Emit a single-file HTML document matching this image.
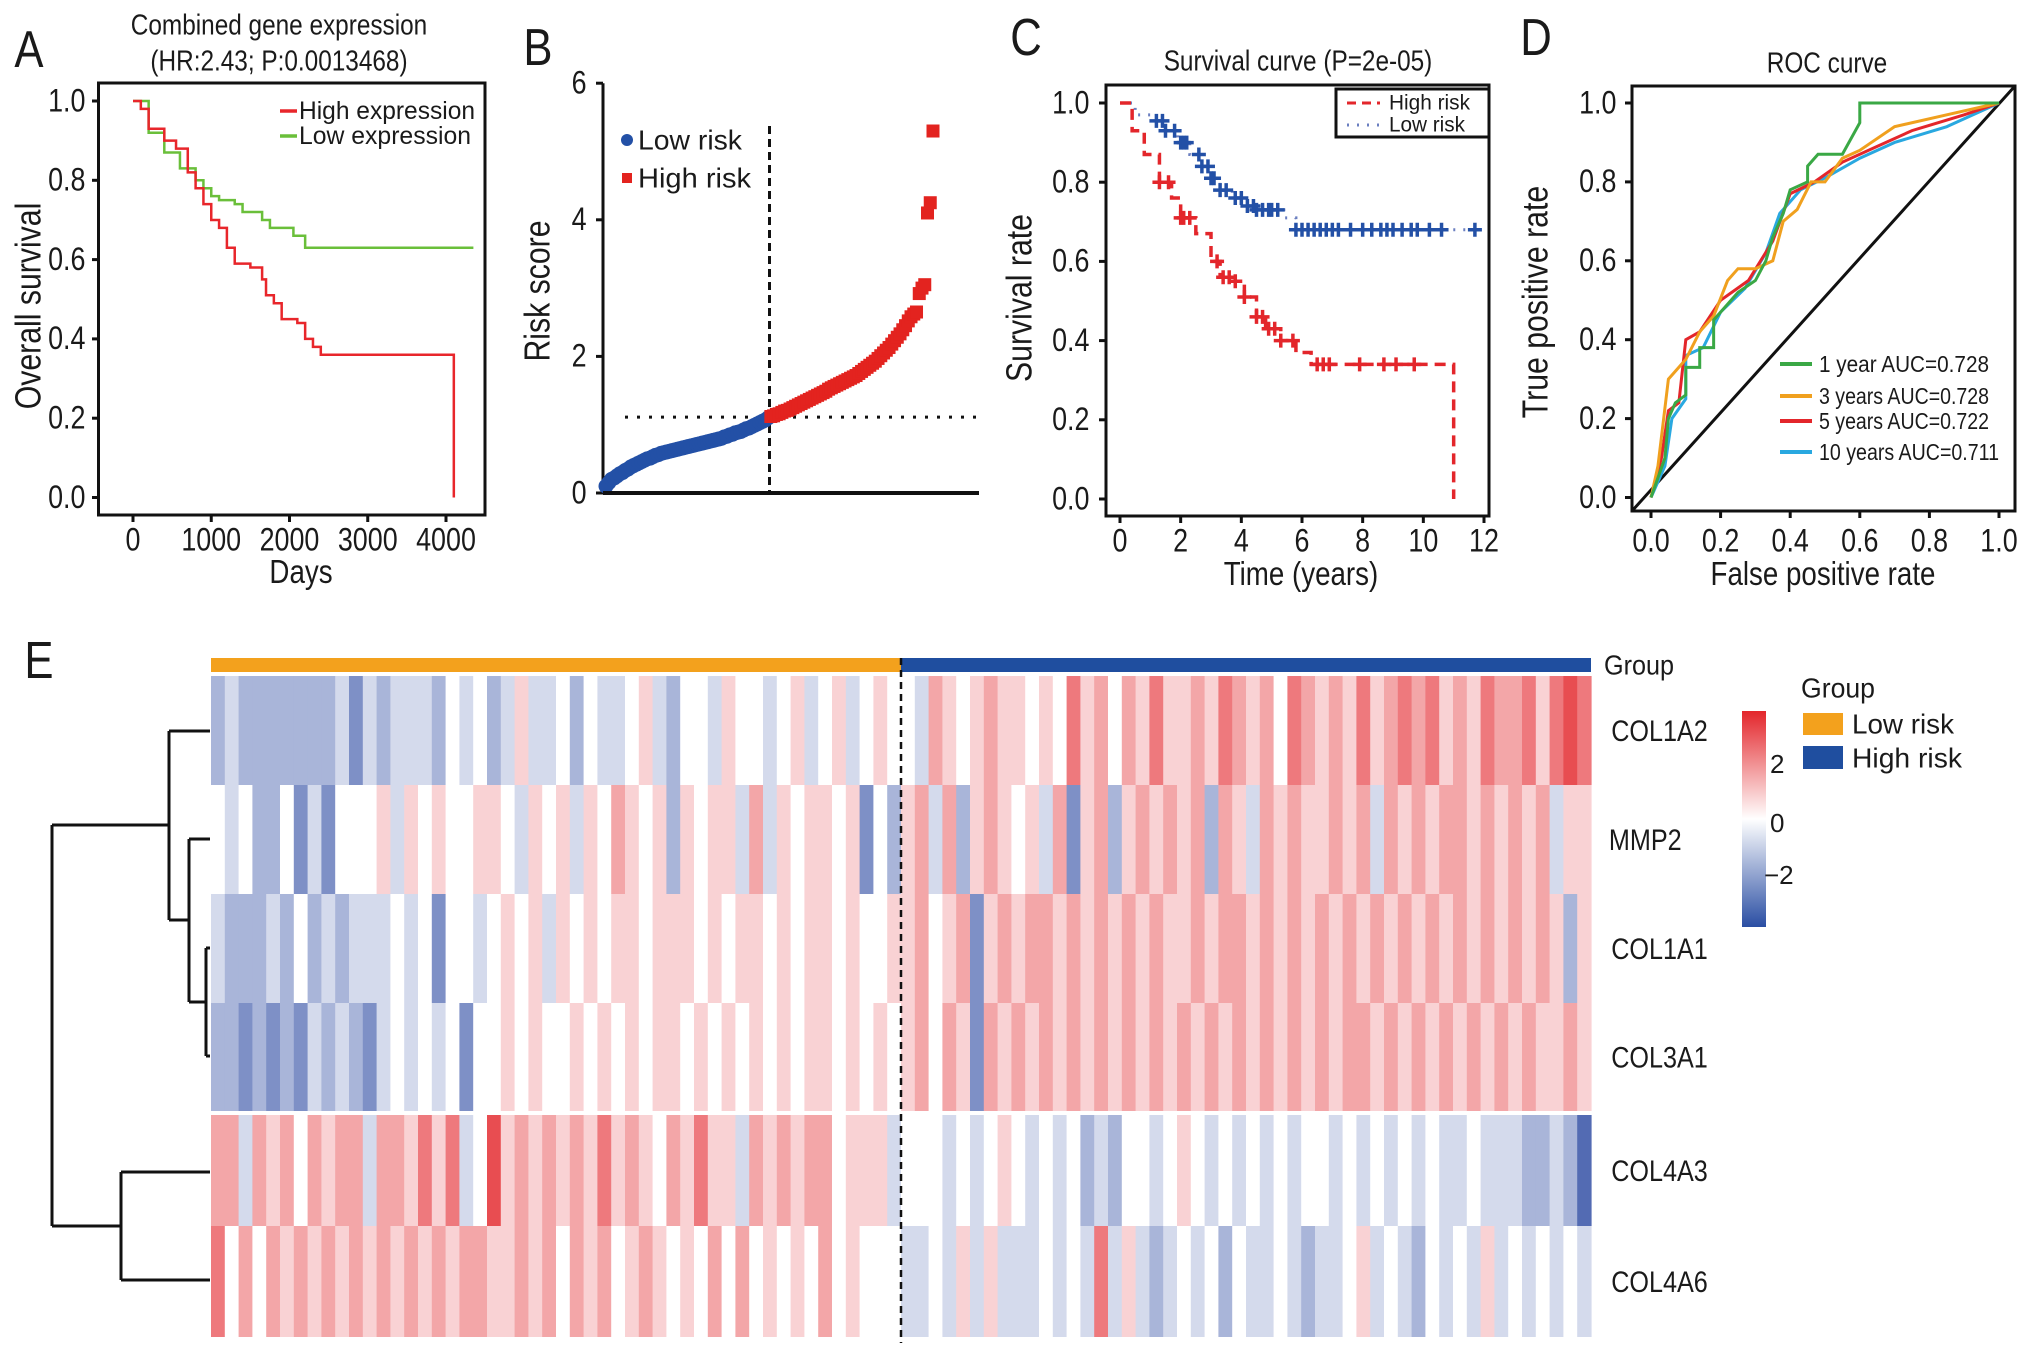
<!DOCTYPE html>
<html><head><meta charset="utf-8"><title>Risk model figure</title>
<style>
html,body{margin:0;padding:0;background:#fff;}
svg{display:block;}
text{font-family:"Liberation Sans",sans-serif;fill:#1a1a1a;}
.c{transform-box:fill-box;transform-origin:center;transform:scaleX(0.84);}
</style></head>
<body>
<svg id="fig" xmlns="http://www.w3.org/2000/svg" width="2032" height="1355" viewBox="0 0 2032 1355">
<defs>
<linearGradient id="cbar" x1="0" y1="0" x2="0" y2="1">
<stop offset="0" stop-color="#e3262b"/><stop offset="0.5" stop-color="#ffffff"/><stop offset="1" stop-color="#2a4ea3"/>
</linearGradient>
</defs>
<text x="29" y="50" font-size="52" text-anchor="middle" dominant-baseline="central" class="c">A</text>
<text x="538" y="48" font-size="52" text-anchor="middle" dominant-baseline="central" class="c">B</text>
<text x="1026" y="38" font-size="52" text-anchor="middle" dominant-baseline="central" class="c">C</text>
<text x="1536" y="38" font-size="52" text-anchor="middle" dominant-baseline="central" class="c">D</text>
<text x="39" y="661" font-size="52" text-anchor="middle" dominant-baseline="central" class="c">E</text>

<text x="279" y="25" font-size="29" text-anchor="middle" dominant-baseline="central" class="c">Combined gene expression</text>
<text x="279" y="61" font-size="29" text-anchor="middle" dominant-baseline="central" class="c">(HR:2.43; P:0.0013468)</text>
<rect x="98.5" y="83" width="386.5" height="432" fill="none" stroke="#111" stroke-width="3"/>
<text x="301" y="572" font-size="33" text-anchor="middle" dominant-baseline="central" class="c">Days</text>
<g transform="translate(29,306) rotate(-90)"><text x="0" y="0" font-size="36" text-anchor="middle" dominant-baseline="central" class="c">Overall survival</text></g>
<line x1="280" y1="111" x2="297" y2="111" stroke="#e8262b" stroke-width="3.5"/>
<text x="299" y="111" font-size="25" dominant-baseline="central" textLength="176" lengthAdjust="spacingAndGlyphs">High expression</text>
<line x1="280" y1="136" x2="297" y2="136" stroke="#6abf3a" stroke-width="3.5"/>
<text x="299" y="136" font-size="25" dominant-baseline="central" textLength="172" lengthAdjust="spacingAndGlyphs">Low expression</text>
<g id="gA"></g>

<g transform="translate(538,291) rotate(-90)"><text x="0" y="0" font-size="36" text-anchor="middle" dominant-baseline="central" class="c">Risk score</text></g>
<circle cx="627" cy="140" r="6" fill="#2350a6"/>
<text x="638" y="140" font-size="28" dominant-baseline="central" textLength="104" lengthAdjust="spacingAndGlyphs">Low risk</text>
<rect x="622" y="173" width="10" height="10" fill="#e3231f"/>
<text x="638" y="178" font-size="28" dominant-baseline="central" textLength="113" lengthAdjust="spacingAndGlyphs">High risk</text>
<g id="gB"></g>

<text x="1298" y="61" font-size="29" text-anchor="middle" dominant-baseline="central" class="c">Survival curve (P=2e-05)</text>
<rect x="1106" y="85" width="383" height="431" fill="none" stroke="#111" stroke-width="3"/>
<text x="1301" y="574" font-size="33" text-anchor="middle" dominant-baseline="central" class="c">Time (years)</text>
<g transform="translate(1020,298) rotate(-90)"><text x="0" y="0" font-size="36" text-anchor="middle" dominant-baseline="central" class="c">Survival rate</text></g>
<rect x="1336" y="89" width="153" height="48" fill="#fff" stroke="#111" stroke-width="3"/>
<line x1="1347" y1="103" x2="1380" y2="103" stroke="#e3262b" stroke-width="3" stroke-dasharray="9,6"/>
<text x="1389" y="103" font-size="21" dominant-baseline="central" textLength="81" lengthAdjust="spacingAndGlyphs">High risk</text>
<line x1="1347" y1="125" x2="1380" y2="125" stroke="#6b7fc0" stroke-width="3" stroke-dasharray="2,8"/>
<text x="1389" y="125" font-size="21" dominant-baseline="central" textLength="76" lengthAdjust="spacingAndGlyphs">Low risk</text>
<g id="gC"></g>

<text x="1827" y="63" font-size="29" text-anchor="middle" dominant-baseline="central" class="c">ROC curve</text>
<rect x="1632" y="86" width="383" height="425" fill="none" stroke="#111" stroke-width="3"/>
<line x1="1632" y1="511" x2="2015" y2="86" stroke="#111" stroke-width="3"/>
<text x="1823" y="574" font-size="33" text-anchor="middle" dominant-baseline="central" class="c">False positive rate</text>
<g transform="translate(1536,302) rotate(-90)"><text x="0" y="0" font-size="36" text-anchor="middle" dominant-baseline="central" class="c">True positive rate</text></g>
<g id="gD"></g>

<g id="gE"></g>
<text x="1604" y="665" font-size="28" dominant-baseline="central" textLength="70" lengthAdjust="spacingAndGlyphs">Group</text>
<text x="1801" y="688" font-size="28" dominant-baseline="central" textLength="74" lengthAdjust="spacingAndGlyphs">Group</text>
<rect x="1803" y="713" width="40" height="22" fill="#f3a11d"/>
<text x="1852" y="724" font-size="28" dominant-baseline="central" textLength="102" lengthAdjust="spacingAndGlyphs">Low risk</text>
<rect x="1803" y="746" width="40" height="23" fill="#1f4e9f"/>
<text x="1852" y="758" font-size="28" dominant-baseline="central" textLength="110" lengthAdjust="spacingAndGlyphs">High risk</text>
<rect x="1742" y="711" width="24" height="216" fill="url(#cbar)"/>
<text x="1770" y="764" font-size="26" dominant-baseline="central">2</text>
<text x="1770" y="823" font-size="26" dominant-baseline="central">0</text>
<text x="1764" y="875" font-size="26" dominant-baseline="central">−2</text>
<g fill="none" stroke="#111" stroke-width="3">
<path d="M206,948 H210 M206,1056 H210 M206,948 V1056"/>
<path d="M189,839 H210 M189,1002 H206 M189,839 V1002"/>
<path d="M169,731 H210 M169,920 H189 M169,731 V920"/>
<path d="M121,1172 H210 M121,1280 H210 M121,1172 V1280"/>
<path d="M52,825 H169 M52,1226 H121 M52,825 V1226"/>
</g>
</svg>
<script>
const aDayTicks=[0,1000,2000,3000,4000];
const aSurvTicks=[0,0.2,0.4,0.6,0.8,1.0];
const aHighDays=[0,100,200,400,550,700,800,900,1000,1100,1200,1300,1500,1650,1700,1800,1900,2100,2200,2300,2400,4100];
const aHighSurv=[1,0.98,0.93,0.90,0.88,0.82,0.78,0.74,0.70,0.68,0.63,0.59,0.58,0.55,0.51,0.49,0.45,0.44,0.40,0.38,0.36,0.0];
const aLowDays=[0,200,400,600,800,900,1000,1100,1300,1400,1650,1750,2050,2200];
const aLowSurv=[1,0.92,0.87,0.83,0.80,0.78,0.76,0.75,0.74,0.72,0.70,0.68,0.66,0.63];
const aLowEnd=4350;
const bScoreTicks=[0,2,4,6];
const bLowScores=[0.10,0.15,0.20,0.22,0.25,0.28,0.30,0.33,0.35,0.38,0.40,0.42,0.44,0.46,0.48,0.50,0.51,0.53,0.55,0.56,0.58,0.59,0.60,0.61,0.62,0.63,0.64,0.65,0.66,0.67,0.68,0.69,0.70,0.71,0.72,0.73,0.74,0.75,0.76,0.77,0.78,0.79,0.80,0.82,0.83,0.85,0.86,0.88,0.89,0.90,0.92,0.94,0.95,0.97,0.99,1.01,1.03,1.05,1.07,1.10];
const bHighScores=[1.12,1.13,1.15,1.16,1.18,1.20,1.21,1.23,1.25,1.27,1.29,1.31,1.33,1.35,1.37,1.39,1.41,1.43,1.45,1.47,1.49,1.52,1.54,1.56,1.58,1.60,1.62,1.64,1.66,1.68,1.70,1.72,1.75,1.78,1.81,1.84,1.87,1.90,1.93,1.97,2.01,2.05,2.09,2.13,2.18,2.23,2.28,2.33,2.39,2.45,2.52,2.58,2.62,2.65,2.92,3.00,3.05,4.10,4.25,5.30];
const bCutoff=1.11;
const cTimeTicks=[0,2,4,6,8,10,12];
const cSurvTicks=[0,0.2,0.4,0.6,0.8,1.0];
const cHighT=[0,0.4,0.8,1.3,1.7,2.0,2.5,3.0,3.3,3.8,4.1,4.5,4.8,5.3,5.8,6.3,11.0];
const cHighS=[1,0.93,0.87,0.80,0.76,0.71,0.67,0.60,0.56,0.55,0.51,0.46,0.43,0.40,0.37,0.34,0.0];
const cHighCensor=[1.3,1.6,2.0,2.1,2.3,3.2,3.4,3.6,3.8,4.1,4.5,4.7,4.9,5.1,5.3,5.7,6.5,6.7,6.9,7.9,8.7,9.1,9.7];
const cLowT=[0,0.5,1.1,1.5,1.9,2.3,2.7,3.0,3.3,3.7,4.2,4.5,5.4,5.8];
const cLowS=[1,0.97,0.955,0.93,0.90,0.87,0.84,0.81,0.78,0.76,0.74,0.73,0.71,0.68];
const cLowEnd=11.8;
const cLowCensor=[1.2,1.4,1.5,1.8,2.0,2.1,2.2,2.6,2.7,2.9,3.0,3.1,3.3,3.5,3.8,4.0,4.2,4.4,4.5,4.7,4.9,5.0,5.2,5.8,6.0,6.2,6.4,6.6,6.8,7.0,7.2,7.6,8.0,8.3,8.6,8.8,9.0,9.3,9.6,9.8,10.2,10.6,11.7];
const dTicks=[0,0.2,0.4,0.6,0.8,1.0];
const roc1yFpr=[0,0.02,0.04,0.05,0.07,0.10,0.10,0.14,0.14,0.18,0.18,0.20,0.25,0.30,0.33,0.35,0.38,0.40,0.45,0.45,0.48,0.55,0.60,0.60,1.0];
const roc1yTpr=[0,0.05,0.10,0.20,0.24,0.26,0.33,0.33,0.38,0.38,0.45,0.47,0.52,0.55,0.60,0.66,0.72,0.78,0.80,0.84,0.87,0.87,0.95,1.0,1.0];
const roc3yFpr=[0,0.02,0.05,0.07,0.10,0.14,0.18,0.22,0.25,0.30,0.35,0.38,0.42,0.46,0.50,0.55,0.60,0.70,0.85,1.0];
const roc3yTpr=[0,0.08,0.30,0.32,0.35,0.42,0.46,0.55,0.58,0.58,0.60,0.70,0.73,0.80,0.80,0.86,0.88,0.94,0.97,1.0];
const roc5yFpr=[0,0.03,0.05,0.08,0.10,0.14,0.20,0.28,0.35,0.40,0.47,0.55,0.65,0.75,0.90,1.0];
const roc5yTpr=[0,0.10,0.22,0.24,0.40,0.42,0.50,0.55,0.65,0.77,0.80,0.85,0.89,0.93,0.97,1.0];
const roc10yFpr=[0,0.04,0.06,0.10,0.10,0.15,0.20,0.27,0.33,0.37,0.43,0.50,0.60,0.70,0.85,1.0];
const roc10yTpr=[0,0.08,0.20,0.25,0.36,0.38,0.47,0.53,0.62,0.72,0.78,0.81,0.86,0.90,0.94,1.0];
const rocLabels=["1 year AUC=0.728","3 years AUC=0.728","5 years AUC=0.722","10 years AUC=0.711"];
const genes=["COL1A2","MMP2","COL1A1","COL3A1","COL4A3","COL4A6"];
const groupLowCount=50;
const exprCOL1A2="2322222223132333243423533424334532443544345345345443654565545475646575565765647656575676756576675787";
const exprMMP2  ="4342241314445354544554354535465452545536354554514256362565453615625656562653656556563656566565656355";
const exprCOL1A1="3222324232333434144345453545455455545455454554544556456156566565656565565665656565656565656565656525";
const exprCOL3A1="2212121323213434341445454454545455454545454554545456465165656565656565656565656565665656565656565565";
const exprCOL4A3="6636564656636657573485656565756546575536565664555344434345434342324434543434343443434343433433322320";
const exprCOL4A6="7464656565656565656655656465645654546464545464544433435353334343735323434243343233453432434353434343";

const NS="http://www.w3.org/2000/svg";
function mk(tag,attrs,parent){const e=document.createElementNS(NS,tag);for(const k in attrs)e.setAttribute(k,attrs[k]);parent.appendChild(e);return e;}
function lbl(str,x,y,size,anchor,parent){const t=mk('text',{x:x,y:y,'font-size':size,'text-anchor':anchor,'dominant-baseline':'central','class':'c'},parent);t.textContent=str;return t;}
function stepPath(xs,ys,fx,fy,endX){let d='M'+fx(xs[0])+','+fy(ys[0]);for(let i=1;i<xs.length;i++){d+=' H'+fx(xs[i])+' V'+fy(ys[i]);}if(endX!==undefined)d+=' H'+fx(endX);return d;}
function stepAt(xs,ys,t){let s=ys[0];for(let i=0;i<xs.length;i++){if(xs[i]<=t)s=ys[i];}return s;}

const gA=document.getElementById('gA');
const xA=d=>133+d*(446-133)/4000, yA=s=>497.5-s*396.5;
aSurvTicks.forEach(v=>{
  const tk=mk('line',{x1:92,x2:98.5,y1:yA(v),y2:yA(v),stroke:'#111','stroke-width':3},gA);
  
  
  const t=lbl(v.toFixed(1),89,yA(v),32,'end',gA);
  
  
});
aDayTicks.forEach(v=>{
  const tk=mk('line',{x1:xA(v),x2:xA(v),y1:515,y2:522,stroke:'#111','stroke-width':3},gA);
  
  
  const t=lbl(String(v),xA(v),540,32,'middle',gA);
  
  
});
const aLow=mk('path',{d:stepPath(aLowDays,aLowSurv,xA,yA,aLowEnd),fill:'none',stroke:'#6abf3a','stroke-width':2.5},gA);


const aHigh=mk('path',{d:stepPath(aHighDays,aHighSurv,xA,yA),fill:'none',stroke:'#e8262b','stroke-width':2.5},gA);



const gB=document.getElementById('gB');
const nB=bLowScores.length+bHighScores.length;
const xB=i=>606+i*(933-606)/(nB-1), yB=v=>493-v*68.3;
const yAx=mk('line',{x1:603,x2:603,y1:yB(6),y2:yB(0),stroke:'#111','stroke-width':3},gB);


bScoreTicks.forEach(v=>{
  const tk=mk('line',{x1:596,x2:603,y1:yB(v),y2:yB(v),stroke:'#111','stroke-width':3},gB);
  
  
  const t=lbl(String(v),588,yB(v),32,'end',gB);
  
  
});
const cutLine=mk('line',{x1:625,x2:979,y1:yB(bCutoff),y2:yB(bCutoff),stroke:'#111','stroke-width':3,'stroke-dasharray':'3,9'},gB);


const splitX=xB(bLowScores.length-0.5);
const vLine=mk('line',{x1:splitX,x2:splitX,y1:126,y2:493,stroke:'#111','stroke-width':3,'stroke-dasharray':'8,5'},gB);


bLowScores.forEach((v,i)=>{
  const p=mk('circle',{cx:xB(i),cy:yB(v),r:7.5,fill:'#2350a6'},gB);
  
  
});
bHighScores.forEach((v,j)=>{
  const i=bLowScores.length+j;
  const p=mk('rect',{x:xB(i)-6.5,y:yB(v)-6.5,width:13,height:13,fill:'#e3231f'},gB);
  
  
});
const xAx=mk('line',{x1:603,x2:979,y1:493,y2:493,stroke:'#111','stroke-width':4},gB);



const gC=document.getElementById('gC');
const xC=t=>1120+t*(364/12), yC=s=>499-s*396;
cSurvTicks.forEach(v=>{
  const tk=mk('line',{x1:1099,x2:1106,y1:yC(v),y2:yC(v),stroke:'#111','stroke-width':3},gC);
  
  
  const t=lbl(v.toFixed(1),1093,yC(v),32,'end',gC);
  
  
});
cTimeTicks.forEach(v=>{
  const tk=mk('line',{x1:xC(v),x2:xC(v),y1:516,y2:523,stroke:'#111','stroke-width':3},gC);
  
  
  const t=lbl(String(v),xC(v),541,32,'middle',gC);
  
  
});
const cLow=mk('path',{d:stepPath(cLowT,cLowS,xC,yC,cLowEnd),fill:'none',stroke:'#6b7fc0','stroke-width':3,'stroke-dasharray':'2,8'},gC);


const cHigh=mk('path',{d:stepPath(cHighT,cHighS,xC,yC),fill:'none',stroke:'#e3262b','stroke-width':3.5,'stroke-dasharray':'11,7'},gC);


function cross(x,y,col,parent){return mk('path',{d:'M'+(x-7)+','+y+' H'+(x+7)+' M'+x+','+(y-7)+' V'+(y+7),stroke:col,'stroke-width':3.5,fill:'none'},parent);}
cLowCensor.forEach(t=>{
  const m=cross(xC(t),yC(stepAt(cLowT,cLowS,t)),'#2350a6',gC);
  
  
});
cHighCensor.forEach(t=>{
  const m=cross(xC(t),yC(stepAt(cHighT,cHighS,t)),'#e3262b',gC);
  
  
});

const gD=document.getElementById('gD');
const xD=f=>1651+f*348, yD=t=>497.5-t*394.5;
dTicks.forEach(v=>{
  const tk=mk('line',{x1:1625,x2:1632,y1:yD(v),y2:yD(v),stroke:'#111','stroke-width':3},gD);
  
  
  const t=lbl(v.toFixed(1),1620,yD(v),32,'end',gD);
  
  
  const tx=mk('line',{x1:xD(v),x2:xD(v),y1:511,y2:518,stroke:'#111','stroke-width':3},gD);
  
  
  const tl=lbl(v.toFixed(1),xD(v),541,32,'middle',gD);
  
  
});
const rocSeries=[[roc10yFpr,roc10yTpr,'#29a8e0'],[roc5yFpr,roc5yTpr,'#e3262b'],[roc3yFpr,roc3yTpr,'#f0a01e'],[roc1yFpr,roc1yTpr,'#3aa845']];
rocSeries.forEach(s=>{
  let d='';
  s[0].forEach((f,i)=>{d+=(i?' L':'M')+xD(f)+','+yD(s[1][i]);});
  const p=mk('path',{d:d,fill:'none',stroke:s[2],'stroke-width':3},gD);
  
  
});
const rocCols=['#3aa845','#f0a01e','#e3262b','#29a8e0'];
const rocLegY=[364,396,421,452];
rocLabels.forEach((s,i)=>{
  const l=mk('line',{x1:1780,x2:1812,y1:rocLegY[i],y2:rocLegY[i],stroke:rocCols[i],'stroke-width':4},gD);
  
  
  const t=mk('text',{x:1819,y:rocLegY[i],'font-size':23,'dominant-baseline':'central',textLength:(s.length>17?180:170),lengthAdjust:'spacingAndGlyphs'},gD);
  t.textContent=s;
  
  
});

const gE=document.getElementById('gE');
const exprRows=[exprCOL1A2,exprMMP2,exprCOL1A1,exprCOL3A1,exprCOL4A3,exprCOL4A6];
const rowTop=[676,785,894,1003,1115,1226], rowBot=[785,894,1003,1111,1226,1337];
const hmX0=211, hmX1=1591, nCol=exprCOL1A2.length;
const xE=c=>hmX0+c*(hmX1-hmX0)/nCol;
function zcol(code){
  const z=(code-4)/4, t=Math.min(1,Math.abs(z))*0.8;
  const tgt=z>=0?[226,32,38]:[40,70,160];
  const r=Math.round(255+(tgt[0]-255)*t), g=Math.round(255+(tgt[1]-255)*t), b=Math.round(255+(tgt[2]-255)*t);
  return 'rgb('+r+','+g+','+b+')';
}
const lowBar=mk('rect',{x:hmX0,y:658,width:xE(groupLowCount)-hmX0,height:14,fill:'#f3a11d'},gE);


const highBar=mk('rect',{x:xE(groupLowCount),y:658,width:hmX1-xE(groupLowCount),height:14,fill:'#1f4e9f'},gE);


exprRows.forEach((row,r)=>{
  for(let c=0;c<nCol;c++){
    const cell=mk('rect',{x:xE(c),y:rowTop[r],width:(hmX1-hmX0)/nCol+0.6,height:rowBot[r]-rowTop[r],fill:zcol(+row[c])},gE);
    
    
  }
  const g=lbl(genes[r],1602,(rowTop[r]+rowBot[r])/2,30,'start',gE);
  
  
});
const split=mk('line',{x1:xE(groupLowCount),x2:xE(groupLowCount),y1:658,y2:1343,stroke:'#111','stroke-width':2.5,'stroke-dasharray':'7,5'},gE);


</script>
</body></html>
